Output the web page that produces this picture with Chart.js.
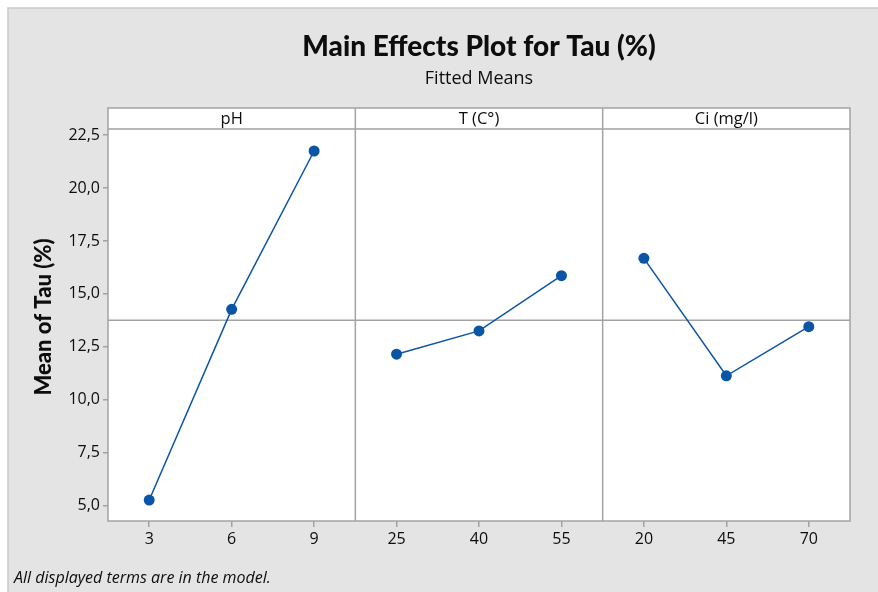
<!DOCTYPE html>
<html>
<head>
<meta charset="utf-8">
<title>Main Effects Plot for Tau (%)</title>
<script src="https://cdn.jsdelivr.net/npm/chart.js@4.4.1/dist/chart.umd.min.js"></script>
<style>
  html, body { margin: 0; padding: 0; background: #ffffff; }
  canvas { display: block; }
</style>
</head>
<body>
<canvas id="chart" width="878" height="592"></canvas>
<script>
// Factors and their levels
const factorNames = ['pH', 'T (C°)', 'Ci (mg/l)'];
const phLevels = ['3', '6', '9'];
const tempLevels = ['25', '40', '55'];
const ciLevels = ['20', '45', '70'];

// Fitted means of Tau (%) at each level
const phMeans = [5.26, 14.27, 21.75];
const tempMeans = [12.15, 13.25, 15.86];
const ciMeans = [16.68, 11.13, 13.45];

// Overall mean reference line
const grandMean = 13.76;

// Y axis
const yTicks = [5, 7.5, 10, 12.5, 15, 17.5, 20, 22.5];
const yMin = 4.27;
const yMax = 22.79;

const title = 'Main Effects Plot for Tau (%)';
const subtitle = 'Fitted Means';
const yTitle = 'Mean of Tau (%)';
const footnote = 'All displayed terms are in the model.';

// ---- build the table Chart.js needs: one category axis split into 3 panels ----
const levelGroups = [phLevels, tempLevels, ciLevels];
const meanGroups = [phMeans, tempMeans, ciMeans];
const allLabels = [].concat(...levelGroups);
const datasets = meanGroups.map((means, k) => {
  const data = new Array(allLabels.length).fill(null);
  let start = 0;
  for (let j = 0; j < k; j++) start += levelGroups[j].length;
  means.forEach((v, i) => { data[start + i] = v; });
  return { label: factorNames[k], data: data };
});

const BLUE = '#0a55a6';
const FRAME = '#a3a3a3';
const TEXT = '#0d0d0d';
const PANEL_BG = '#e4e4e4';
const STRIP_H = 21;

const frameTitles = {
  id: 'frameTitles',
  beforeDraw(chart) {
    const { ctx, chartArea: a } = chart;
    ctx.save();
    ctx.fillStyle = '#ffffff';
    ctx.fillRect(0, 0, chart.width, chart.height);
    ctx.fillStyle = PANEL_BG;
    ctx.fillRect(8, 8, chart.width - 8, chart.height - 8);
    ctx.strokeStyle = '#c9c9c9';
    ctx.lineWidth = 1.5;
    ctx.beginPath();
    ctx.moveTo(8, chart.height);
    ctx.lineTo(8, 8);
    ctx.lineTo(chart.width, 8);
    ctx.stroke();
    ctx.fillStyle = '#ffffff';
    ctx.fillRect(a.left, a.top - STRIP_H, a.right - a.left, a.bottom - a.top + STRIP_H);
    ctx.restore();
  },
  beforeDatasetsDraw(chart) {
    const { ctx, chartArea: a, scales: { y } } = chart;
    const yp = y.getPixelForValue(grandMean);
    ctx.save();
    ctx.strokeStyle = FRAME;
    ctx.lineWidth = 1.5;
    ctx.beginPath();
    ctx.moveTo(a.left, yp);
    ctx.lineTo(a.right, yp);
    ctx.stroke();
    ctx.restore();
  },
  afterDraw(chart) {
    const { ctx, chartArea: a, scales: { x } } = chart;
    const top = a.top - STRIP_H;
    ctx.save();
    ctx.strokeStyle = FRAME;
    ctx.lineWidth = 1.5;
    ctx.strokeRect(a.left, top, a.right - a.left, a.bottom - top);
    ctx.beginPath();
    ctx.moveTo(a.left, a.top);
    ctx.lineTo(a.right, a.top);
    let idx = 0;
    const centers = [];
    levelGroups.forEach((g, k) => {
      const first = x.getPixelForValue(idx);
      const last = x.getPixelForValue(idx + g.length - 1);
      centers.push((first + last) / 2);
      idx += g.length;
      if (k < levelGroups.length - 1) {
        const xp = (x.getPixelForValue(idx - 1) + x.getPixelForValue(idx)) / 2;
        ctx.moveTo(xp, top);
        ctx.lineTo(xp, a.bottom);
      }
    });
    ctx.stroke();

    // panel headers
    ctx.fillStyle = TEXT;
    ctx.textAlign = 'center';
    ctx.textBaseline = 'middle';
    ctx.font = '16.5px "Open Sans"';
    factorNames.forEach((n, k) => ctx.fillText(n, centers[k], top + STRIP_H / 2 + 1));

    const cx = (a.left + a.right) / 2;
    ctx.textBaseline = 'alphabetic';
    ctx.font = '900 28px Lato';
    ctx.fillText(title, cx, 56);
    ctx.font = '18px "Open Sans"';
    ctx.fillText(subtitle, cx, 84);

    // y axis title
    ctx.save();
    ctx.translate(44, (a.top + a.bottom) / 2 - 8);
    ctx.rotate(-Math.PI / 2);
    ctx.textBaseline = 'middle';
    ctx.font = '900 22px Lato';
    ctx.fillText(yTitle, 0, 0);
    ctx.restore();

    // footnote
    ctx.textAlign = 'left';
    ctx.font = 'italic 16px "Open Sans"';
    ctx.fillText(footnote, 14, 583);
    ctx.restore();
  }
};

new Chart(document.getElementById('chart'), {
  type: 'line',
  data: {
    labels: allLabels,
    datasets: datasets.map(d => Object.assign(d, {
      borderColor: BLUE,
      backgroundColor: BLUE,
      borderWidth: 1.5,
      pointRadius: 5.5,
      pointBorderWidth: 0,
      pointBackgroundColor: BLUE,
      spanGaps: false,
      tension: 0
    }))
  },
  options: {
    responsive: false,
    devicePixelRatio: 1,
    animation: false,
    events: [],
    layout: { padding: { top: 129, right: 28, bottom: 31, left: 0 } },
    plugins: { legend: { display: false }, tooltip: { enabled: false } },
    scales: {
      x: {
        type: 'category',
        offset: true,
        grid: { offset: false, drawOnChartArea: false, drawTicks: true, tickLength: 6, color: FRAME, lineWidth: 1.5 },
        border: { display: false },
        ticks: { color: TEXT, font: { family: 'Open Sans', size: 16 }, padding: 3, maxRotation: 0, autoSkip: false },
        afterFit(s) { s.height = 40; }
      },
      y: {
        type: 'linear',
        min: yMin,
        max: yMax,
        afterBuildTicks(s) { s.ticks = yTicks.map(v => ({ value: v })); },
        grid: { drawOnChartArea: false, drawTicks: true, tickLength: 5, color: FRAME, lineWidth: 1.5 },
        border: { display: false },
        ticks: {
          color: TEXT,
          font: { family: 'Open Sans', size: 16 },
          padding: 3,
          callback: v => v.toFixed(1).replace('.', ',')
        },
        afterFit(s) { s.width = 108; }
      }
    }
  },
  plugins: [frameTitles]
});
</script>
</body>
</html>
